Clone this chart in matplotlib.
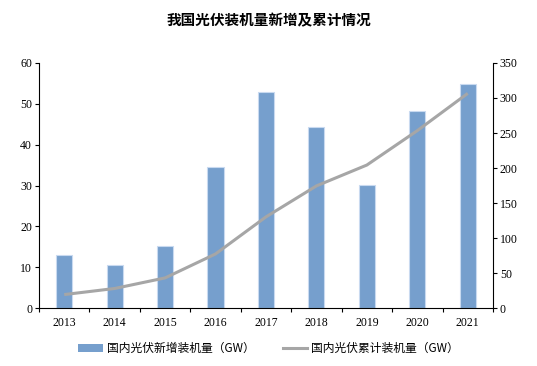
import matplotlib
matplotlib.use("Agg")
import matplotlib.pyplot as plt
import numpy as np
from matplotlib.patches import Patch
from matplotlib.lines import Line2D

years = ["2013", "2014", "2015", "2016", "2017", "2018", "2019", "2020", "2021"]
new_installed = [12.9, 10.6, 15.1, 34.5, 52.8, 44.3, 30.1, 48.2, 54.9]
cumulative = [19.4, 28.1, 43.2, 77.4, 130.3, 174.5, 204.3, 253.4, 306.6]

title = "我国光伏装机量新增及累计情况"
label_bar = "国内光伏新增装机量（GW）"
label_line = "国内光伏累计装机量（GW）"

cjk = ["Noto Sans CJK SC", "DejaVu Sans"]
serif = ["Liberation Serif", "DejaVu Serif"]

fig = plt.figure(figsize=(5.37, 3.66), dpi=100)
ax = fig.add_axes([0.0726, 0.158, 0.8454, 0.670])
ax2 = ax.twinx()

x = np.arange(len(years))
ax.bar(x, new_installed, width=0.32, color="#769fcd", edgecolor="#c9daf0", linewidth=0.8, zorder=2)
ax2.plot(x, cumulative, color="#a6a6a6", linewidth=2.2, solid_capstyle="butt")

ax.set_xlim(-0.5, len(years) - 0.5)
ax.set_ylim(0, 60)
ax.set_yticks(range(0, 61, 10))
ax2.set_ylim(0, 350)
ax2.set_yticks(range(0, 351, 50))

ax.set_xticks(x)
ax.set_xticklabels(years)
ax.set_xticks(np.arange(-0.5, len(years), 1.0), minor=True)
ax.tick_params(axis="x", which="major", length=0, pad=6)
ax.tick_params(axis="x", which="minor", length=3, direction="out", width=0.8)
ax.tick_params(axis="y", length=3, direction="out", width=0.8, pad=2)
ax2.tick_params(axis="y", length=3, direction="out", width=0.8, pad=2)

for a in (ax, ax2):
    a.spines["top"].set_visible(False)
    for lbl in a.get_xticklabels() + a.get_yticklabels():
        lbl.set_fontfamily(serif)
        lbl.set_fontsize(8.5)
ax2.spines["left"].set_visible(False)
ax2.spines["bottom"].set_visible(False)
ax.spines["right"].set_visible(False)

fig.text(0.5, 0.945, title, ha="center", va="center", fontsize=10.5,
         fontweight="bold", family=cjk)

handles = [Patch(facecolor="#769fcd", edgecolor="none"),
           Line2D([0], [0], color="#a6a6a6", linewidth=2.2)]
fig.legend(handles, [label_bar, label_line], loc="center", bbox_to_anchor=(0.5, 0.048),
           ncol=2, frameon=False, prop={"family": cjk, "size": 8.5},
           handlelength=2.1, handleheight=0.6, columnspacing=2.4, handletextpad=0.3)

fig.savefig("out.png", dpi=100)
